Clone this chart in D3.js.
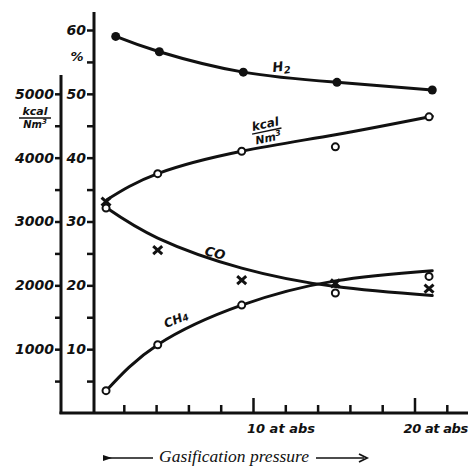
<!DOCTYPE html>
<html>
<head>
<meta charset="utf-8">
<script src="https://cdn.jsdelivr.net/npm/d3@7"></script>
<style>
  body { margin: 0; background: #fff; }
  text { fill: #111; }
  .lbl { font-family: "DejaVu Sans", sans-serif; font-weight: bold; font-style: oblique; }
</style>
</head>
<body>
<div id="chart"></div>
<script>
// measured points (gasification pressure, at abs)
const pressures = [0.9, 4.1, 9.3, 15.1, 20.9];
const h2Pressures = [1.5, 4.2, 9.4, 15.2, 21.1];
const h2Values = [59.0, 56.6, 53.4, 51.8, 50.6];      // %
const kcalValues = [3210, 3750, 4100, 4170, 4640];    // kcal/Nm3
const coValues = [33.1, 25.5, 20.8, 20.3, 19.5];      // %
const ch4Values = [3.5, 10.7, 16.9, 18.8, 21.4];      // %

// smoothed curves as drawn through the points
const curvePressures = [0.95, 4.1, 9.3, 15.1, 21.1];
const kcalCurve = [3340, 3750, 4100, 4360, 4650];
const coCurve = [32.1, 27.4, 22.7, 19.8, 18.4];
const ch4Curve = [3.6, 10.7, 16.9, 20.7, 22.3];

const pctTicks = [5, 10, 15, 20, 25, 30, 35, 40, 45, 50, 55, 60];
const kcalTicks = [500, 1000, 1500, 2000, 2500, 3000, 3500, 4000, 4500, 5000];
const pressureTicks = [2, 4, 6, 8, 10, 12, 14, 16, 18, 20, 22];
const pressureLabels = [{ p: 10, text: "10 at abs" }, { p: 20, text: "20 at abs" }];

const width = 470, height = 469;

const svg = d3.select("#chart").append("svg")
    .attr("width", width)
    .attr("height", height)
    .style("background", "#fff");

const x = d3.scaleLinear().domain([0, 20]).range([91.5, 414.5]);
const y = d3.scaleLinear().domain([0, 60]).range([413, 30]);
const yk = d3.scaleLinear().domain([0, 6000]).range([413, 30]);

const innerX = 94, outerX = 61, baseY = 413;

// axis lines
svg.append("line").attr("x1", innerX).attr("x2", innerX).attr("y1", 12).attr("y2", baseY + 1)
    .attr("stroke", "#111").attr("stroke-width", 3);
svg.append("line").attr("x1", outerX).attr("x2", outerX).attr("y1", 75).attr("y2", baseY + 1)
    .attr("stroke", "#111").attr("stroke-width", 3);
svg.append("line").attr("x1", outerX - 1.5).attr("x2", 468).attr("y1", baseY).attr("y2", baseY)
    .attr("stroke", "#111").attr("stroke-width", 3);

// percent axis
const pctAxis = svg.append("g")
    .attr("transform", `translate(${innerX},0)`)
    .call(d3.axisLeft(y).tickValues(pctTicks).tickSize(7).tickPadding(1)
        .tickFormat(d => d % 10 === 0 ? d : ""));
pctAxis.select(".domain").remove();
pctAxis.selectAll(".tick line").attr("stroke", "#111").attr("stroke-width", 2.5);
pctAxis.selectAll(".tick text").attr("class", "lbl").attr("font-size", 14).attr("fill", "#111");

svg.append("text").attr("class", "lbl").attr("x", 77).attr("y", 61)
    .attr("text-anchor", "middle").attr("font-size", 13).text("%");

// kcal axis
const kcalAxis = svg.append("g")
    .attr("transform", `translate(${outerX},0)`)
    .call(d3.axisLeft(yk).tickValues(kcalTicks).tickSize(6).tickPadding(1)
        .tickFormat(d => d % 1000 === 0 ? d : ""));
kcalAxis.select(".domain").remove();
kcalAxis.selectAll(".tick line").attr("stroke", "#111").attr("stroke-width", 2.5);
kcalAxis.selectAll(".tick text").attr("class", "lbl").attr("font-size", 14).attr("fill", "#111");

// kcal/Nm3 unit on left
const unit = svg.append("g").attr("transform", "translate(35,0)");
unit.append("text").attr("class", "lbl").attr("x", 0).attr("y", 115)
    .attr("text-anchor", "middle").attr("font-size", 11).text("kcal");
unit.append("line").attr("x1", -16).attr("x2", 16).attr("y1", 118).attr("y2", 118)
    .attr("stroke", "#111").attr("stroke-width", 1.5);
unit.append("text").attr("class", "lbl").attr("x", 0).attr("y", 128)
    .attr("text-anchor", "middle").attr("font-size", 10)
    .text("Nm").append("tspan").attr("dy", -4).attr("font-size", 7).text("3");

// pressure axis (ticks point up)
const pAxis = svg.append("g")
    .attr("transform", `translate(0,${baseY})`)
    .call(d3.axisBottom(x).tickValues(pressureTicks).tickSizeInner(-8).tickSizeOuter(0).tickFormat(""));
pAxis.select(".domain").remove();
pAxis.selectAll(".tick line").attr("stroke", "#111").attr("stroke-width", 2.5)
    .attr("y2", d => d % 10 === 0 ? -15 : -8);

svg.selectAll("text.plab")
    .data(pressureLabels)
    .enter().append("text")
    .attr("class", "lbl plab")
    .attr("x", d => x(d.p) - (d.p === 20 ? 11 : 6))
    .attr("y", 433)
    .attr("font-size", 13)
    .attr("letter-spacing", d => d.p === 20 ? -0.4 : 0)
    .text(d => d.text);

// caption with arrows
svg.append("text")
    .attr("x", 234).attr("y", 462)
    .attr("text-anchor", "middle")
    .attr("font-family", "Liberation Serif, serif")
    .attr("font-style", "italic")
    .attr("font-size", 17.5)
    .text("Gasification pressure");
svg.append("line").attr("x1", 104).attr("x2", 153).attr("y1", 458).attr("y2", 458)
    .attr("stroke", "#111").attr("stroke-width", 1.5);
svg.append("path").attr("d", "M103,455 L112,458 L103,461 Z").attr("fill", "#111");
svg.append("line").attr("x1", 316).attr("x2", 364).attr("y1", 458).attr("y2", 458)
    .attr("stroke", "#111").attr("stroke-width", 1.5);
svg.append("path").attr("d", "M359,454 L367,458 L359,462").attr("fill", "none")
    .attr("stroke", "#111").attr("stroke-width", 1.8);

// curves
const linePct = d3.line().x(d => x(d[0])).y(d => y(d[1])).curve(d3.curveNatural);
const lineKcal = d3.line().x(d => x(d[0])).y(d => yk(d[1])).curve(d3.curveNatural);

const curves = [
    { line: linePct, pts: d3.zip(h2Pressures, h2Values) },
    { line: lineKcal, pts: d3.zip(curvePressures, kcalCurve) },
    { line: linePct, pts: d3.zip(curvePressures, coCurve) },
    { line: linePct, pts: d3.zip(curvePressures, ch4Curve) }
];
curves.forEach(c => {
    svg.append("path")
        .attr("d", c.line(c.pts))
        .attr("fill", "none")
        .attr("stroke", "#111")
        .attr("stroke-width", 3)
        .attr("stroke-linecap", "round");
});

// markers
svg.selectAll("circle.h2")
    .data(d3.zip(h2Pressures, h2Values))
    .enter().append("circle")
    .attr("class", "h2")
    .attr("cx", d => x(d[0])).attr("cy", d => y(d[1]))
    .attr("r", 4.5).attr("fill", "#111");

svg.selectAll("circle.kcal")
    .data(d3.zip(pressures, kcalValues))
    .enter().append("circle")
    .attr("class", "kcal")
    .attr("cx", d => x(d[0])).attr("cy", d => yk(d[1]))
    .attr("r", 3.5).attr("fill", "#fff").attr("stroke", "#111").attr("stroke-width", 2);

svg.selectAll("circle.ch4")
    .data(d3.zip(pressures, ch4Values))
    .enter().append("circle")
    .attr("class", "ch4")
    .attr("cx", d => x(d[0])).attr("cy", d => y(d[1]))
    .attr("r", 3.5).attr("fill", "#fff").attr("stroke", "#111").attr("stroke-width", 2);

svg.selectAll("path.co")
    .data(d3.zip(pressures, coValues))
    .enter().append("path")
    .attr("class", "co")
    .attr("transform", d => `translate(${x(d[0])},${y(d[1])})`)
    .attr("d", "M-4.5,-4 L4.5,4 M-4.5,4 L4.5,-4")
    .attr("stroke", "#111").attr("stroke-width", 3);

// curve labels
const h2Label = svg.append("text").attr("class", "lbl")
    .attr("transform", "translate(273,72) rotate(-7)")
    .attr("font-size", 13).text("H");
h2Label.append("tspan").attr("dy", 3).attr("font-size", 10).text("2");

const kl = svg.append("g").attr("transform", "translate(267,132) rotate(-12)");
kl.append("text").attr("class", "lbl").attr("x", 0).attr("y", -4)
    .attr("text-anchor", "middle").attr("font-size", 12).text("kcal");
kl.append("line").attr("x1", -15).attr("x2", 15).attr("y1", -1).attr("y2", -1)
    .attr("stroke", "#111").attr("stroke-width", 1.5);
kl.append("text").attr("class", "lbl").attr("x", 0).attr("y", 10)
    .attr("text-anchor", "middle").attr("font-size", 11)
    .text("Nm").append("tspan").attr("dy", -4).attr("font-size", 8).text("3");

svg.append("text").attr("class", "lbl")
    .attr("transform", "translate(204,255) rotate(14)")
    .attr("font-size", 13).text("CO");

const ch4Label = svg.append("text").attr("class", "lbl")
    .attr("transform", "translate(166,328) rotate(-22)")
    .attr("font-size", 12).text("CH");
ch4Label.append("tspan").attr("dy", 1).attr("font-size", 9).text("4");
</script>
</body>
</html>
